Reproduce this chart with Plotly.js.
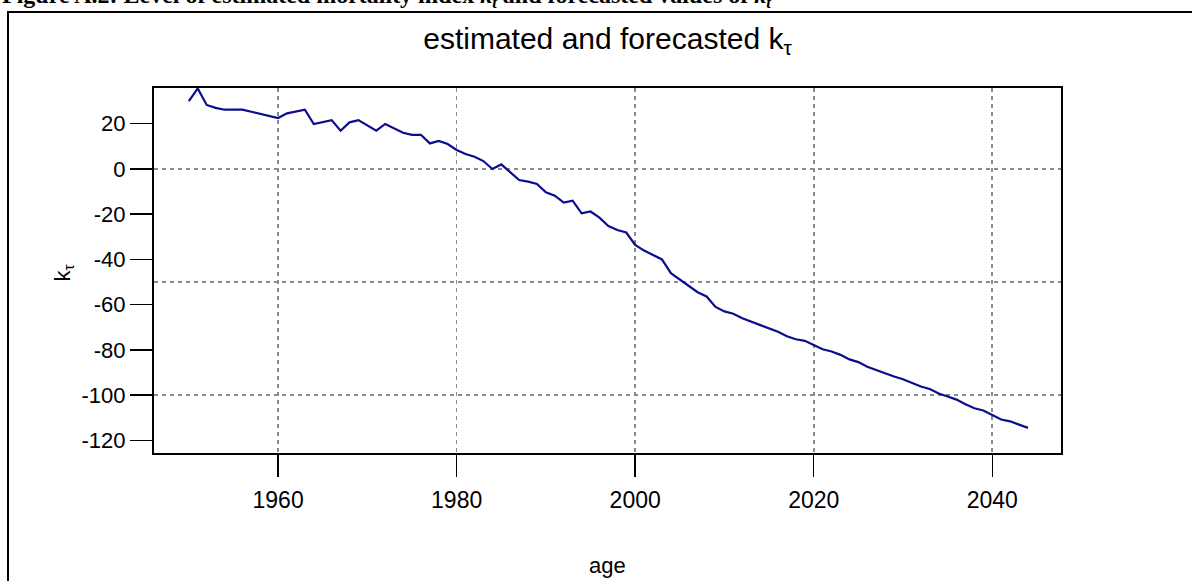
<!DOCTYPE html>
<html>
<head>
<meta charset="utf-8">
<script src="https://cdn.plot.ly/plotly-3.0.1.min.js"></script>
<style>
  html, body { margin: 0; padding: 0; background: #ffffff; }
  #chart { width: 1192px; height: 581px; }
</style>
</head>
<body>
<div id="chart"></div>
<script>
// Years covered by the estimated and forecasted mortality index
const years = [];
for (let y = 1950; y <= 2044; y++) years.push(y);

// k_tau values, 1950-2044
const kTau = [
  30.0, 35.6, 28.3, 27.0, 26.2, 26.2, 26.2, 25.3, 24.3, 23.4,
  22.5, 24.6, 25.5, 26.2, 19.9, 20.8, 21.6, 16.9, 20.6, 21.6,
  19.4, 16.9, 19.9, 18.0, 16.0, 15.1, 15.1, 11.3, 12.4, 11.0,
  8.4, 6.6, 5.4, 3.5, 0.0, 2.0, -1.5, -4.9, -5.6, -6.6,
  -10.3, -11.8, -14.9, -14.0, -19.6, -18.8, -21.5, -25.2, -27.0, -28.1,
  -33.6, -36.1, -38.0, -40.0, -46.1, -49.0, -52.0, -54.5, -56.4, -61.0,
  -63.0, -64.0, -66.0, -67.5, -69.0, -70.5, -72.0, -74.0, -75.3, -76.0,
  -77.7, -79.7, -80.7, -82.2, -84.2, -85.4, -87.5, -89.0, -90.2, -91.8,
  -93.0, -94.5, -96.2, -97.3, -99.3, -100.6, -102.0, -104.0, -105.8, -106.8,
  -108.7, -110.8, -111.6, -113.1, -114.5
];

// Axis ticks and reference grid
const xTicks = [1960, 1980, 2000, 2020, 2040];
const yTicks = [20, 0, -20, -40, -60, -80, -100, -120];
const yGrid = [0, -50, -100];

const xRange = [1946.1, 2047.7];
const yRange = [-125.6, 35.8];

// Plot area in pixels, used to place the figure frame and caption
const plotLeft = 154, plotRight = 1061, plotTop = 88, plotBottom = 453;
const plotW = plotRight - plotLeft, plotH = plotBottom - plotTop;
const px = v => (v - plotLeft) / plotW;
const py = v => (plotBottom - v) / plotH;

const trace = {
  x: years,
  y: kTau,
  type: 'scatter',
  mode: 'lines',
  line: { color: '#0c0c8e', width: 2.2 },
  hoverinfo: 'x+y',
  showlegend: false
};

// Invisible trace so the second y axis (grid only) is drawn
const gridTrace = {
  x: [xRange[0]],
  y: [yRange[0]],
  type: 'scatter',
  mode: 'markers',
  marker: { opacity: 0 },
  yaxis: 'y2',
  hoverinfo: 'skip',
  showlegend: false
};

const font = { family: 'Liberation Sans, Arial, sans-serif', color: '#000000' };

const layout = {
  width: 1192,
  height: 581,
  margin: { l: plotLeft, r: 1192 - plotRight, t: plotTop, b: 581 - plotBottom },
  paper_bgcolor: '#ffffff',
  plot_bgcolor: '#ffffff',
  font: font,
  title: {
    text: 'estimated and forecasted k<sub>τ</sub>',
    font: { family: font.family, size: 30, color: '#000000' },
    x: 0.5,
    xref: 'paper',
    xanchor: 'center',
    y: 1 - 38 / 581,
    yref: 'container',
    yanchor: 'middle'
  },
  xaxis: {
    range: xRange,
    tickvals: xTicks,
    ticktext: xTicks.map(String),
    ticks: 'outside',
    ticklen: 22,
    tickwidth: 1.5,
    tickcolor: '#000000',
    ticklabelstandoff: 3,
    tickfont: { family: font.family, size: 23, color: '#000000' },
    showline: true,
    linecolor: '#000000',
    linewidth: 2,
    mirror: true,
    showgrid: true,
    gridcolor: '#8a8a8a',
    gridwidth: 1.6,
    griddash: '4px,4px',
    zeroline: false
  },
  yaxis: {
    range: yRange,
    tickvals: yTicks,
    ticktext: yTicks.map(String),
    ticks: 'outside',
    ticklen: 22,
    tickwidth: 1.5,
    tickcolor: '#000000',
    tickfont: { family: font.family, size: 22, color: '#000000' },
    showline: true,
    linecolor: '#000000',
    linewidth: 2,
    mirror: true,
    showgrid: false,
    zeroline: false
  },
  yaxis2: {
    overlaying: 'y',
    range: yRange,
    tickvals: yGrid,
    showticklabels: false,
    ticks: '',
    showline: false,
    showgrid: true,
    gridcolor: '#8a8a8a',
    gridwidth: 1.6,
    griddash: '4px,4px',
    zeroline: false
  },
  annotations: [
    {
      text: 'k<sub>τ</sub>',
      textangle: -90,
      xref: 'paper', yref: 'paper',
      x: 0, y: 0.5,
      xanchor: 'center', yanchor: 'middle',
      xshift: -91,
      yshift: -3,
      showarrow: false,
      font: { family: font.family, size: 22, color: '#000000' }
    },
    {
      text: 'age',
      xref: 'paper', yref: 'paper',
      x: 0.5, y: 0,
      xanchor: 'center', yanchor: 'middle',
      yshift: -112,
      showarrow: false,
      font: { family: font.family, size: 22, color: '#000000' }
    },
    {
      text: '<b>Figure A.2: Level of estimated mortality index <i>k<sub>t</sub></i> and forecasted values of <i>k<sub>t</sub></i></b>',
      xref: 'paper', yref: 'paper',
      x: px(0), y: py(14),
      xanchor: 'left', yanchor: 'bottom',
      showarrow: false,
      font: { family: 'Liberation Serif, Times New Roman, serif', size: 24, color: '#000000' }
    }
  ],
  shapes: [
    {
      type: 'rect',
      xref: 'paper', yref: 'paper',
      x0: px(8), x1: px(1200),
      y0: py(600), y1: py(12),
      line: { color: '#000000', width: 2 },
      fillcolor: 'rgba(0,0,0,0)',
      layer: 'below'
    }
  ]
};

Plotly.newPlot('chart', [gridTrace, trace], layout, { staticPlot: true, displayModeBar: false });
</script>
</body>
</html>
